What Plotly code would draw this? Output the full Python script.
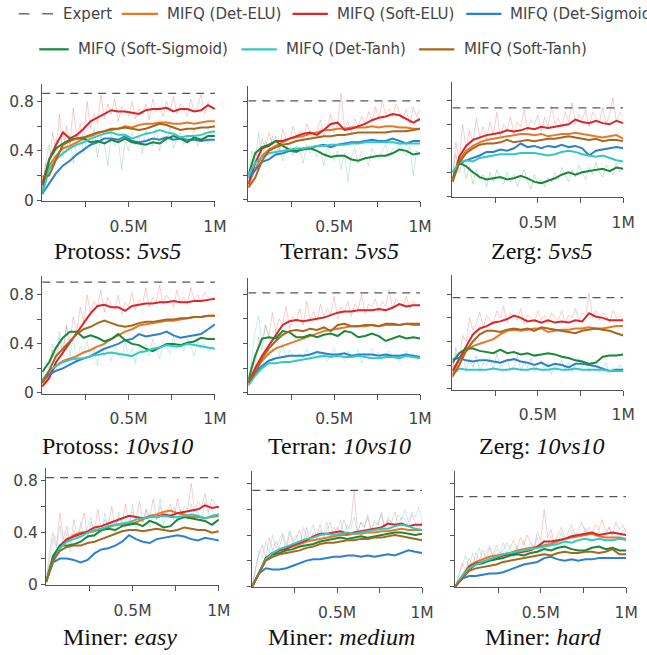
import plotly.graph_objects as go

W, H = 647, 655

# ---------------- data ----------------
steps = [0.00, 0.04, 0.08, 0.12, 0.16, 0.20, 0.24, 0.28, 0.32, 0.36, 0.40, 0.44, 0.48,
         0.52, 0.56, 0.60, 0.64, 0.68, 0.72, 0.76, 0.80, 0.84, 0.88, 0.92, 0.96, 1.00]
raw_steps = [0.00, 0.02, 0.04, 0.06, 0.08, 0.10, 0.12, 0.14, 0.16, 0.18, 0.20, 0.22, 0.24,
             0.26, 0.28, 0.30, 0.32, 0.34, 0.36, 0.38, 0.40, 0.42, 0.44, 0.46, 0.48, 0.50,
             0.52, 0.54, 0.56, 0.58, 0.60, 0.62, 0.64, 0.66, 0.68, 0.70, 0.72, 0.74, 0.76,
             0.78, 0.80, 0.82, 0.84, 0.86, 0.88, 0.90, 0.92, 0.94, 0.96, 0.98, 1.00]

series_names = ["MIFQ (Det-ELU)", "MIFQ (Soft-ELU)", "MIFQ (Det-Sigmoid)",
                "MIFQ (Soft-Sigmoid)", "MIFQ (Det-Tanh)", "MIFQ (Soft-Tanh)"]
series_colors = ["#e8772a", "#d9262a", "#2b80d0", "#17893a", "#33c9c0", "#a8661c"]

panel_titles = ["Protoss: <i>5vs5</i>", "Terran: <i>5vs5</i>", "Zerg: <i>5vs5</i>",
                "Protoss: <i>10vs10</i>", "Terran: <i>10vs10</i>", "Zerg: <i>10vs10</i>",
                "Miner: <i>easy</i>", "Miner: <i>medium</i>", "Miner: <i>hard</i>"]

expert_values = [0.867, 0.808, 0.737, 0.905, 0.81, 0.772, 0.823, 0.75, 0.70]

x_tick_vals = [0.25, 0.5, 0.75, 1.0]
x_tick_text = ["", "0.5M", "", "1M"]
y_tick_vals = [0, 0.2, 0.4, 0.6, 0.8]
y_tick_text = ["0", "", "0.4", "", "0.8"]

# Protoss 5vs5
protoss5_det_elu = [0.15, 0.28, 0.36, 0.42, 0.44, 0.47, 0.50, 0.52, 0.54, 0.56, 0.57, 0.58, 0.60, 0.59, 0.61, 0.62, 0.62, 0.63, 0.63, 0.62, 0.62, 0.63, 0.62, 0.63, 0.64, 0.64]
protoss5_soft_elu = [0.12, 0.33, 0.45, 0.55, 0.50, 0.53, 0.58, 0.64, 0.67, 0.70, 0.73, 0.72, 0.72, 0.71, 0.70, 0.73, 0.74, 0.74, 0.75, 0.72, 0.74, 0.74, 0.72, 0.73, 0.77, 0.74]
protoss5_det_sig = [0.05, 0.14, 0.22, 0.28, 0.32, 0.37, 0.41, 0.45, 0.47, 0.50, 0.50, 0.49, 0.52, 0.48, 0.47, 0.48, 0.50, 0.49, 0.51, 0.49, 0.50, 0.49, 0.49, 0.48, 0.49, 0.49]
protoss5_soft_sig = [0.05, 0.33, 0.42, 0.46, 0.49, 0.50, 0.50, 0.47, 0.48, 0.46, 0.49, 0.47, 0.50, 0.47, 0.46, 0.45, 0.47, 0.46, 0.50, 0.52, 0.50, 0.47, 0.51, 0.49, 0.52, 0.52]
protoss5_det_tanh = [0.05, 0.25, 0.33, 0.38, 0.42, 0.45, 0.47, 0.50, 0.52, 0.54, 0.55, 0.53, 0.53, 0.50, 0.52, 0.54, 0.55, 0.57, 0.55, 0.54, 0.51, 0.52, 0.52, 0.53, 0.55, 0.56]
protoss5_soft_tanh = [0.19, 0.20, 0.33, 0.45, 0.48, 0.50, 0.51, 0.53, 0.55, 0.56, 0.58, 0.58, 0.59, 0.58, 0.57, 0.58, 0.60, 0.62, 0.61, 0.59, 0.57, 0.58, 0.58, 0.59, 0.59, 0.60]

# Terran 5vs5
terran5_det_elu = [0.12, 0.25, 0.36, 0.41, 0.44, 0.47, 0.50, 0.51, 0.52, 0.54, 0.55, 0.57, 0.57, 0.58, 0.58, 0.59, 0.59, 0.59, 0.60, 0.59, 0.60, 0.60, 0.59, 0.59, 0.58, 0.58]
terran5_soft_elu = [0.13, 0.30, 0.42, 0.44, 0.48, 0.48, 0.50, 0.52, 0.54, 0.55, 0.53, 0.57, 0.62, 0.63, 0.57, 0.58, 0.60, 0.62, 0.65, 0.67, 0.68, 0.70, 0.69, 0.66, 0.63, 0.66]
terran5_det_sig = [0.18, 0.24, 0.31, 0.33, 0.37, 0.38, 0.40, 0.39, 0.42, 0.42, 0.44, 0.45, 0.43, 0.45, 0.46, 0.47, 0.47, 0.48, 0.49, 0.48, 0.48, 0.50, 0.48, 0.46, 0.48, 0.48]
terran5_soft_sig = [0.20, 0.38, 0.43, 0.45, 0.48, 0.44, 0.41, 0.40, 0.41, 0.42, 0.40, 0.37, 0.35, 0.36, 0.36, 0.33, 0.32, 0.34, 0.35, 0.36, 0.36, 0.38, 0.41, 0.40, 0.37, 0.38]
terran5_det_tanh = [0.20, 0.30, 0.35, 0.38, 0.39, 0.40, 0.41, 0.42, 0.42, 0.43, 0.44, 0.44, 0.45, 0.45, 0.45, 0.46, 0.46, 0.47, 0.47, 0.47, 0.47, 0.47, 0.46, 0.46, 0.46, 0.46]
terran5_soft_tanh = [0.10, 0.18, 0.32, 0.40, 0.43, 0.45, 0.46, 0.48, 0.49, 0.50, 0.51, 0.52, 0.52, 0.53, 0.53, 0.54, 0.55, 0.55, 0.55, 0.55, 0.55, 0.56, 0.56, 0.56, 0.57, 0.58]

# Zerg 5vs5
zerg5_det_elu = [0.12, 0.30, 0.38, 0.42, 0.45, 0.47, 0.48, 0.49, 0.50, 0.51, 0.52, 0.52, 0.51, 0.52, 0.50, 0.51, 0.52, 0.52, 0.53, 0.52, 0.51, 0.50, 0.49, 0.50, 0.51, 0.48]
zerg5_soft_elu = [0.13, 0.33, 0.42, 0.47, 0.49, 0.51, 0.52, 0.53, 0.55, 0.54, 0.55, 0.57, 0.56, 0.58, 0.57, 0.58, 0.59, 0.60, 0.64, 0.62, 0.61, 0.63, 0.61, 0.60, 0.63, 0.61]
zerg5_det_sig = [0.20, 0.27, 0.30, 0.32, 0.34, 0.37, 0.37, 0.39, 0.38, 0.40, 0.44, 0.41, 0.42, 0.40, 0.42, 0.41, 0.43, 0.41, 0.42, 0.40, 0.34, 0.38, 0.39, 0.40, 0.41, 0.40]
zerg5_soft_sig = [0.15, 0.28, 0.25, 0.20, 0.16, 0.14, 0.15, 0.16, 0.14, 0.15, 0.17, 0.15, 0.12, 0.11, 0.13, 0.15, 0.18, 0.20, 0.18, 0.20, 0.21, 0.22, 0.23, 0.21, 0.24, 0.23]
zerg5_det_tanh = [0.20, 0.28, 0.30, 0.29, 0.32, 0.33, 0.34, 0.35, 0.35, 0.35, 0.36, 0.36, 0.36, 0.35, 0.34, 0.35, 0.37, 0.38, 0.37, 0.35, 0.34, 0.33, 0.34, 0.32, 0.30, 0.29]
zerg5_soft_tanh = [0.12, 0.28, 0.36, 0.40, 0.43, 0.44, 0.44, 0.45, 0.47, 0.45, 0.46, 0.47, 0.46, 0.47, 0.48, 0.48, 0.49, 0.50, 0.49, 0.48, 0.47, 0.48, 0.46, 0.47, 0.47, 0.46]

# Protoss 10vs10
protoss10_det_elu = [0.08, 0.15, 0.22, 0.26, 0.28, 0.30, 0.33, 0.35, 0.38, 0.40, 0.44, 0.47, 0.50, 0.52, 0.55, 0.56, 0.57, 0.58, 0.59, 0.59, 0.60, 0.61, 0.62, 0.62, 0.63, 0.63]
protoss10_soft_elu = [0.05, 0.12, 0.25, 0.33, 0.42, 0.50, 0.57, 0.65, 0.71, 0.72, 0.70, 0.70, 0.67, 0.71, 0.72, 0.73, 0.73, 0.74, 0.74, 0.75, 0.74, 0.74, 0.75, 0.75, 0.76, 0.77]
protoss10_det_sig = [0.10, 0.15, 0.18, 0.20, 0.23, 0.26, 0.28, 0.30, 0.33, 0.36, 0.38, 0.40, 0.43, 0.44, 0.48, 0.46, 0.47, 0.48, 0.50, 0.47, 0.45, 0.46, 0.47, 0.48, 0.52, 0.56]
protoss10_soft_sig = [0.17, 0.25, 0.37, 0.45, 0.50, 0.50, 0.45, 0.47, 0.45, 0.42, 0.44, 0.48, 0.43, 0.40, 0.39, 0.36, 0.34, 0.37, 0.40, 0.40, 0.39, 0.41, 0.42, 0.45, 0.44, 0.44]
protoss10_det_tanh = [0.10, 0.18, 0.22, 0.25, 0.27, 0.28, 0.28, 0.30, 0.31, 0.32, 0.33, 0.32, 0.31, 0.30, 0.33, 0.34, 0.36, 0.37, 0.39, 0.38, 0.38, 0.40, 0.39, 0.38, 0.37, 0.36]
protoss10_soft_tanh = [0.08, 0.18, 0.30, 0.36, 0.42, 0.48, 0.52, 0.54, 0.57, 0.59, 0.57, 0.55, 0.54, 0.55, 0.57, 0.58, 0.58, 0.59, 0.60, 0.60, 0.61, 0.61, 0.62, 0.62, 0.63, 0.63]

# Terran 10vs10
terran10_det_elu = [0.08, 0.18, 0.26, 0.32, 0.36, 0.38, 0.40, 0.42, 0.44, 0.46, 0.48, 0.50, 0.51, 0.52, 0.53, 0.54, 0.54, 0.54, 0.55, 0.54, 0.55, 0.55, 0.55, 0.56, 0.55, 0.55]
terran10_soft_elu = [0.08, 0.20, 0.30, 0.38, 0.46, 0.55, 0.58, 0.59, 0.58, 0.59, 0.60, 0.61, 0.63, 0.65, 0.66, 0.66, 0.67, 0.67, 0.67, 0.68, 0.67, 0.69, 0.72, 0.70, 0.71, 0.71]
terran10_det_sig = [0.08, 0.16, 0.22, 0.26, 0.28, 0.29, 0.30, 0.30, 0.30, 0.31, 0.33, 0.32, 0.31, 0.31, 0.32, 0.30, 0.31, 0.31, 0.31, 0.30, 0.31, 0.30, 0.30, 0.31, 0.30, 0.29]
terran10_soft_sig = [0.10, 0.30, 0.44, 0.45, 0.44, 0.50, 0.49, 0.45, 0.45, 0.47, 0.45, 0.47, 0.48, 0.46, 0.50, 0.49, 0.45, 0.46, 0.48, 0.46, 0.42, 0.44, 0.46, 0.44, 0.45, 0.44]
terran10_det_tanh = [0.06, 0.14, 0.20, 0.24, 0.24, 0.25, 0.25, 0.26, 0.27, 0.28, 0.29, 0.30, 0.29, 0.30, 0.29, 0.29, 0.30, 0.29, 0.28, 0.28, 0.29, 0.29, 0.28, 0.30, 0.29, 0.28]
terran10_soft_tanh = [0.08, 0.16, 0.28, 0.36, 0.42, 0.47, 0.50, 0.51, 0.50, 0.52, 0.51, 0.53, 0.50, 0.55, 0.56, 0.54, 0.54, 0.55, 0.55, 0.54, 0.56, 0.56, 0.55, 0.56, 0.56, 0.56]

# Zerg 10vs10
zerg10_det_elu = [0.12, 0.25, 0.32, 0.36, 0.38, 0.40, 0.42, 0.46, 0.49, 0.50, 0.49, 0.50, 0.51, 0.51, 0.48, 0.49, 0.50, 0.50, 0.51, 0.51, 0.52, 0.51, 0.51, 0.52, 0.53, 0.53]
zerg10_soft_elu = [0.15, 0.25, 0.35, 0.46, 0.51, 0.53, 0.56, 0.57, 0.59, 0.62, 0.60, 0.57, 0.58, 0.56, 0.58, 0.56, 0.57, 0.56, 0.58, 0.57, 0.64, 0.61, 0.60, 0.58, 0.58, 0.58]
zerg10_det_sig = [0.25, 0.26, 0.24, 0.23, 0.24, 0.24, 0.23, 0.22, 0.24, 0.25, 0.23, 0.22, 0.20, 0.22, 0.19, 0.21, 0.20, 0.18, 0.21, 0.21, 0.20, 0.19, 0.17, 0.15, 0.16, 0.16]
zerg10_soft_sig = [0.22, 0.30, 0.34, 0.34, 0.32, 0.31, 0.30, 0.33, 0.30, 0.31, 0.29, 0.30, 0.28, 0.29, 0.30, 0.29, 0.27, 0.26, 0.24, 0.23, 0.21, 0.22, 0.27, 0.28, 0.28, 0.29]
zerg10_det_tanh = [0.12, 0.17, 0.16, 0.16, 0.16, 0.16, 0.17, 0.16, 0.16, 0.17, 0.16, 0.16, 0.17, 0.16, 0.16, 0.17, 0.16, 0.16, 0.17, 0.16, 0.16, 0.16, 0.16, 0.15, 0.15, 0.15]
zerg10_soft_tanh = [0.10, 0.20, 0.32, 0.40, 0.46, 0.49, 0.49, 0.48, 0.50, 0.51, 0.50, 0.51, 0.49, 0.52, 0.51, 0.50, 0.49, 0.48, 0.47, 0.49, 0.50, 0.51, 0.50, 0.49, 0.47, 0.45]

# Miner easy
easy_det_elu = [0.02, 0.20, 0.30, 0.34, 0.38, 0.40, 0.40, 0.41, 0.43, 0.44, 0.46, 0.46, 0.47, 0.48, 0.50, 0.53, 0.54, 0.56, 0.57, 0.55, 0.54, 0.52, 0.52, 0.51, 0.52, 0.53]
easy_soft_elu = [0.02, 0.20, 0.30, 0.35, 0.37, 0.39, 0.41, 0.44, 0.45, 0.47, 0.49, 0.51, 0.53, 0.52, 0.51, 0.52, 0.52, 0.54, 0.53, 0.55, 0.56, 0.57, 0.58, 0.61, 0.59, 0.60]
easy_det_sig = [0.02, 0.17, 0.20, 0.20, 0.19, 0.17, 0.19, 0.24, 0.27, 0.28, 0.30, 0.33, 0.38, 0.35, 0.33, 0.32, 0.35, 0.36, 0.37, 0.38, 0.37, 0.35, 0.34, 0.36, 0.35, 0.34]
easy_soft_sig = [0.02, 0.22, 0.30, 0.30, 0.31, 0.33, 0.37, 0.38, 0.42, 0.43, 0.42, 0.45, 0.46, 0.47, 0.45, 0.49, 0.47, 0.44, 0.45, 0.50, 0.52, 0.51, 0.50, 0.49, 0.46, 0.50]
easy_det_tanh = [0.02, 0.18, 0.28, 0.33, 0.35, 0.37, 0.40, 0.42, 0.43, 0.45, 0.46, 0.47, 0.48, 0.50, 0.51, 0.52, 0.52, 0.53, 0.52, 0.52, 0.53, 0.54, 0.53, 0.51, 0.53, 0.54]
easy_soft_tanh = [0.02, 0.18, 0.26, 0.29, 0.30, 0.30, 0.32, 0.33, 0.35, 0.37, 0.39, 0.41, 0.42, 0.42, 0.41, 0.42, 0.43, 0.42, 0.41, 0.42, 0.44, 0.43, 0.42, 0.42, 0.40, 0.41]

# Miner medium
medium_det_elu = [0.00, 0.10, 0.21, 0.25, 0.28, 0.30, 0.31, 0.33, 0.35, 0.36, 0.37, 0.38, 0.39, 0.40, 0.40, 0.41, 0.41, 0.42, 0.42, 0.43, 0.43, 0.44, 0.45, 0.44, 0.44, 0.44]
medium_soft_elu = [0.00, 0.10, 0.22, 0.26, 0.28, 0.29, 0.32, 0.34, 0.36, 0.39, 0.41, 0.41, 0.42, 0.43, 0.41, 0.42, 0.43, 0.44, 0.45, 0.46, 0.49, 0.48, 0.49, 0.47, 0.48, 0.48]
medium_det_sig = [0.00, 0.10, 0.14, 0.13, 0.13, 0.14, 0.16, 0.18, 0.20, 0.21, 0.21, 0.22, 0.23, 0.23, 0.24, 0.24, 0.23, 0.24, 0.23, 0.24, 0.25, 0.24, 0.26, 0.28, 0.27, 0.26]
medium_soft_sig = [0.00, 0.10, 0.22, 0.25, 0.26, 0.28, 0.29, 0.31, 0.32, 0.33, 0.35, 0.36, 0.37, 0.38, 0.37, 0.38, 0.39, 0.38, 0.39, 0.40, 0.41, 0.42, 0.42, 0.41, 0.40, 0.41]
medium_det_tanh = [0.00, 0.10, 0.21, 0.26, 0.29, 0.31, 0.33, 0.35, 0.37, 0.38, 0.40, 0.41, 0.40, 0.41, 0.42, 0.41, 0.42, 0.43, 0.44, 0.45, 0.45, 0.47, 0.48, 0.47, 0.45, 0.44]
medium_soft_tanh = [0.00, 0.10, 0.20, 0.23, 0.25, 0.26, 0.27, 0.28, 0.30, 0.31, 0.33, 0.34, 0.34, 0.35, 0.36, 0.36, 0.37, 0.37, 0.38, 0.38, 0.39, 0.40, 0.39, 0.38, 0.37, 0.36]

# Miner hard
hard_det_elu = [0.00, 0.08, 0.16, 0.19, 0.21, 0.23, 0.24, 0.25, 0.26, 0.28, 0.29, 0.30, 0.31, 0.32, 0.33, 0.35, 0.37, 0.38, 0.39, 0.40, 0.41, 0.39, 0.38, 0.38, 0.38, 0.37]
hard_soft_elu = [0.00, 0.08, 0.15, 0.18, 0.19, 0.21, 0.22, 0.24, 0.25, 0.26, 0.27, 0.28, 0.31, 0.35, 0.35, 0.36, 0.37, 0.39, 0.40, 0.41, 0.42, 0.40, 0.41, 0.42, 0.41, 0.40]
hard_det_sig = [0.00, 0.06, 0.08, 0.08, 0.09, 0.10, 0.10, 0.11, 0.13, 0.15, 0.17, 0.18, 0.19, 0.22, 0.23, 0.21, 0.20, 0.21, 0.20, 0.21, 0.21, 0.22, 0.22, 0.22, 0.22, 0.22]
hard_soft_sig = [0.00, 0.07, 0.13, 0.17, 0.18, 0.20, 0.21, 0.22, 0.24, 0.25, 0.24, 0.26, 0.27, 0.29, 0.28, 0.30, 0.31, 0.29, 0.28, 0.28, 0.30, 0.31, 0.29, 0.30, 0.28, 0.28]
hard_det_tanh = [0.00, 0.08, 0.14, 0.17, 0.19, 0.21, 0.23, 0.25, 0.26, 0.27, 0.28, 0.29, 0.30, 0.31, 0.32, 0.33, 0.35, 0.34, 0.36, 0.37, 0.36, 0.37, 0.36, 0.36, 0.37, 0.36]
hard_soft_tanh = [0.00, 0.06, 0.12, 0.14, 0.15, 0.16, 0.17, 0.19, 0.20, 0.21, 0.22, 0.23, 0.24, 0.25, 0.24, 0.26, 0.27, 0.26, 0.26, 0.27, 0.27, 0.26, 0.27, 0.29, 0.25, 0.25]

# faint raw (unsmoothed) curves: Soft-ELU (pink haze) and a green/teal one per panel
protoss5_raw_red = [0.10,0.30,0.25,0.55,0.40,0.70,0.35,0.60,0.45,0.75,0.50,0.62,0.48,0.80,0.58,0.70,0.62,0.85,0.66,0.78,0.70,0.82,0.64,0.76,0.72,0.68,0.80,0.66,0.74,0.70,0.78,0.65,0.82,0.72,0.76,0.68,0.80,0.72,0.84,0.70,0.78,0.74,0.68,0.82,0.72,0.76,0.86,0.70,0.80,0.74,0.76]
protoss5_raw_teal = [0.05,0.30,0.45,0.28,0.50,0.35,0.55,0.40,0.52,0.30,0.48,0.56,0.38,0.50,0.42,0.58,0.35,0.52,0.46,0.28,0.55,0.44,0.50,0.25,0.48,0.40,0.55,0.45,0.52,0.38,0.56,0.48,0.44,0.58,0.40,0.52,0.47,0.60,0.42,0.50,0.55,0.45,0.52,0.48,0.58,0.44,0.50,0.55,0.46,0.52,0.56]
terran5_raw_red = [0.10,0.25,0.40,0.32,0.50,0.42,0.55,0.45,0.52,0.40,0.58,0.50,0.47,0.60,0.52,0.56,0.48,0.62,0.55,0.50,0.58,0.65,0.52,0.60,0.70,0.55,0.62,0.87,0.58,0.64,0.55,0.66,0.60,0.68,0.62,0.72,0.64,0.76,0.66,0.80,0.70,0.74,0.68,0.78,0.72,0.66,0.74,0.62,0.76,0.68,0.74]
terran5_raw_teal = [0.15,0.40,0.30,0.55,0.35,0.48,0.40,0.52,0.38,0.45,0.32,0.42,0.46,0.36,0.44,0.40,0.30,0.45,0.38,0.42,0.35,0.40,0.28,0.44,0.36,0.32,0.40,0.25,0.38,0.15,0.35,0.42,0.30,0.40,0.36,0.28,0.42,0.38,0.33,0.40,0.45,0.35,0.42,0.38,0.46,0.40,0.36,0.44,0.20,0.40,0.38]
zerg5_raw_red = [0.15,0.45,0.30,0.60,0.40,0.55,0.45,0.65,0.50,0.58,0.48,0.62,0.52,0.70,0.50,0.60,0.55,0.66,0.52,0.62,0.58,0.72,0.55,0.64,0.60,0.68,0.54,0.66,0.58,0.75,0.60,0.65,0.58,0.70,0.62,0.78,0.60,0.68,0.64,0.72,0.58,0.70,0.66,0.62,0.74,0.60,0.68,0.82,0.62,0.70,0.66]
zerg5_raw_teal = [0.20,0.35,0.20,0.30,0.15,0.25,0.10,0.22,0.14,0.18,0.08,0.20,0.12,0.22,0.15,0.10,0.20,0.12,0.18,0.08,0.16,0.22,0.12,0.06,0.18,0.10,0.14,0.08,0.16,0.12,0.20,0.14,0.24,0.18,0.12,0.22,0.16,0.26,0.20,0.14,0.24,0.18,0.28,0.20,0.16,0.26,0.22,0.18,0.28,0.20,0.24]
protoss10_raw_red = [0.05,0.15,0.10,0.35,0.20,0.45,0.30,0.55,0.40,0.62,0.50,0.70,0.58,0.80,0.65,0.75,0.70,0.84,0.66,0.78,0.72,0.68,0.80,0.64,0.74,0.70,0.82,0.68,0.76,0.72,0.86,0.70,0.78,0.74,0.88,0.72,0.80,0.76,0.70,0.84,0.74,0.78,0.72,0.86,0.76,0.80,0.74,0.82,0.78,0.76,0.80]
protoss10_raw_teal = [0.10,0.25,0.20,0.40,0.28,0.50,0.35,0.55,0.30,0.45,0.25,0.38,0.32,0.42,0.28,0.36,0.22,0.40,0.30,0.35,0.26,0.38,0.32,0.28,0.42,0.30,0.36,0.24,0.38,0.34,0.40,0.30,0.44,0.36,0.28,0.42,0.38,0.32,0.46,0.36,0.40,0.34,0.44,0.38,0.30,0.42,0.36,0.40,0.34,0.38,0.36]
terran10_raw_red = [0.08,0.25,0.20,0.45,0.35,0.55,0.45,0.65,0.50,0.60,0.55,0.70,0.52,0.62,0.58,0.68,0.55,0.74,0.60,0.66,0.58,0.72,0.62,0.68,0.64,0.78,0.60,0.70,0.66,0.74,0.62,0.72,0.68,0.80,0.64,0.72,0.70,0.76,0.66,0.74,0.70,0.84,0.68,0.76,0.72,0.70,0.78,0.68,0.74,0.72,0.70]
terran10_raw_teal = [0.06,0.30,0.50,0.62,0.40,0.55,0.45,0.35,0.50,0.30,0.40,0.28,0.35,0.30,0.25,0.32,0.28,0.36,0.26,0.30,0.34,0.28,0.32,0.25,0.30,0.36,0.28,0.32,0.26,0.34,0.30,0.28,0.35,0.24,0.32,0.30,0.36,0.28,0.33,0.26,0.30,0.34,0.28,0.32,0.25,0.30,0.34,0.28,0.32,0.27,0.30]
zerg10_raw_red = [0.15,0.30,0.25,0.45,0.40,0.60,0.50,0.55,0.65,0.52,0.62,0.58,0.55,0.66,0.60,0.70,0.56,0.64,0.60,0.58,0.68,0.55,0.62,0.60,0.56,0.66,0.58,0.62,0.55,0.64,0.60,0.58,0.66,0.56,0.62,0.60,0.68,0.58,0.64,0.62,0.81,0.60,0.66,0.58,0.64,0.62,0.56,0.66,0.60,0.62,0.58]
zerg10_raw_teal = [0.15,0.35,0.20,0.30,0.15,0.25,0.18,0.28,0.14,0.22,0.20,0.26,0.16,0.30,0.18,0.22,0.25,0.15,0.20,0.28,0.16,0.22,0.18,0.26,0.14,0.20,0.24,0.16,0.22,0.12,0.20,0.18,0.24,0.16,0.22,0.14,0.20,0.26,0.18,0.22,0.16,0.20,0.24,0.14,0.18,0.22,0.12,0.18,0.16,0.20,0.14]
easy_raw_red = [0.02,0.25,0.40,0.30,0.55,0.35,0.45,0.30,0.50,0.38,0.44,0.55,0.36,0.48,0.42,0.58,0.40,0.50,0.46,0.60,0.44,0.52,0.48,0.62,0.46,0.56,0.50,0.64,0.48,0.58,0.52,0.66,0.50,0.60,0.54,0.56,0.62,0.50,0.66,0.54,0.60,0.58,0.78,0.56,0.64,0.60,0.70,0.56,0.66,0.62,0.58]
easy_raw_teal = [0.02,0.20,0.35,0.28,0.45,0.30,0.40,0.25,0.42,0.35,0.48,0.38,0.44,0.52,0.36,0.46,0.40,0.55,0.42,0.48,0.38,0.56,0.44,0.50,0.46,0.62,0.42,0.52,0.48,0.58,0.44,0.54,0.50,0.66,0.46,0.56,0.52,0.60,0.48,0.58,0.54,0.50,0.62,0.52,0.56,0.48,0.64,0.54,0.58,0.50,0.56]
medium_raw_red = [0.00,0.15,0.25,0.32,0.22,0.38,0.28,0.35,0.30,0.40,0.26,0.42,0.34,0.38,0.44,0.32,0.46,0.36,0.42,0.40,0.48,0.38,0.44,0.50,0.40,0.46,0.42,0.52,0.44,0.48,0.75,0.42,0.50,0.46,0.54,0.44,0.50,0.48,0.56,0.46,0.52,0.50,0.58,0.48,0.54,0.52,0.46,0.56,0.50,0.42,0.52]
medium_raw_teal = [0.00,0.12,0.28,0.22,0.35,0.26,0.40,0.30,0.36,0.42,0.32,0.44,0.36,0.40,0.30,0.46,0.38,0.42,0.48,0.36,0.44,0.40,0.50,0.38,0.46,0.42,0.52,0.40,0.48,0.44,0.54,0.42,0.50,0.46,0.56,0.44,0.52,0.48,0.58,0.46,0.54,0.50,0.48,0.56,0.52,0.60,0.50,0.58,0.54,0.62,0.52]
hard_raw_red = [0.00,0.10,0.18,0.12,0.22,0.16,0.26,0.20,0.28,0.22,0.30,0.24,0.32,0.26,0.28,0.34,0.30,0.36,0.28,0.38,0.32,0.40,0.34,0.30,0.42,0.36,0.60,0.38,0.44,0.34,0.40,0.46,0.38,0.42,0.48,0.40,0.44,0.50,0.42,0.46,0.40,0.48,0.44,0.52,0.42,0.46,0.40,0.50,0.44,0.48,0.42]
hard_raw_teal = [0.00,0.08,0.16,0.24,0.14,0.26,0.18,0.30,0.20,0.26,0.32,0.22,0.28,0.24,0.34,0.26,0.30,0.22,0.32,0.28,0.36,0.26,0.34,0.30,0.38,0.28,0.36,0.32,0.40,0.30,0.34,0.42,0.32,0.38,0.44,0.34,0.40,0.36,0.46,0.34,0.42,0.38,0.44,0.36,0.40,0.46,0.38,0.42,0.36,0.44,0.40]

panel_series = [
    [protoss5_det_elu, protoss5_soft_elu, protoss5_det_sig, protoss5_soft_sig, protoss5_det_tanh, protoss5_soft_tanh],
    [terran5_det_elu, terran5_soft_elu, terran5_det_sig, terran5_soft_sig, terran5_det_tanh, terran5_soft_tanh],
    [zerg5_det_elu, zerg5_soft_elu, zerg5_det_sig, zerg5_soft_sig, zerg5_det_tanh, zerg5_soft_tanh],
    [protoss10_det_elu, protoss10_soft_elu, protoss10_det_sig, protoss10_soft_sig, protoss10_det_tanh, protoss10_soft_tanh],
    [terran10_det_elu, terran10_soft_elu, terran10_det_sig, terran10_soft_sig, terran10_det_tanh, terran10_soft_tanh],
    [zerg10_det_elu, zerg10_soft_elu, zerg10_det_sig, zerg10_soft_sig, zerg10_det_tanh, zerg10_soft_tanh],
    [easy_det_elu, easy_soft_elu, easy_det_sig, easy_soft_sig, easy_det_tanh, easy_soft_tanh],
    [medium_det_elu, medium_soft_elu, medium_det_sig, medium_soft_sig, medium_det_tanh, medium_soft_tanh],
    [hard_det_elu, hard_soft_elu, hard_det_sig, hard_soft_sig, hard_det_tanh, hard_soft_tanh],
]
panel_raw = [
    (protoss5_raw_red, protoss5_raw_teal), (terran5_raw_red, terran5_raw_teal), (zerg5_raw_red, zerg5_raw_teal),
    (protoss10_raw_red, protoss10_raw_teal), (terran10_raw_red, terran10_raw_teal), (zerg10_raw_red, zerg10_raw_teal),
    (easy_raw_red, easy_raw_teal), (medium_raw_red, medium_raw_teal), (hard_raw_red, hard_raw_teal),
]
raw_teal_colors = ["rgba(40,160,120,0.24)", "rgba(40,160,120,0.24)", "rgba(30,140,70,0.24)",
                   "rgba(51,201,192,0.28)", "rgba(51,201,192,0.28)", "rgba(43,128,208,0.24)",
                   "rgba(51,201,192,0.28)", "rgba(51,201,192,0.28)", "rgba(51,201,192,0.28)"]

# ---------------- layout geometry (pixels) ----------------
# left, right, top, bottom, y-min, y-max
boxes = [
    (43, 219, 85, 204, -0.008, 0.944),
    (253, 428, 87, 204, -0.011, 0.931),
    (461, 635, 83, 200, -0.008, 0.954),
    (43, 219, 280, 399, -0.006, 0.954),
    (253, 428, 282, 399, -0.006, 0.930),
    (461, 635, 279, 395, -0.008, 0.962),
    (47, 223, 475, 593.5, -0.006, 0.894),
    (257, 430, 478, 595.5, -0.009, 0.898),
    (464, 638, 478, 595.5, -0.008, 0.896),
]
title_pos = [(120, 255), (346, 255), (552, 255),
             (120, 452), (346, 452), (552, 452),
             (122, 646), (348, 646), (554, 646)]

AX = "#555555"
TXT = "#444444"

fig = go.Figure()
layout = dict(width=W, height=H, margin=dict(l=0, r=0, t=0, b=0),
              paper_bgcolor="white", plot_bgcolor="white", showlegend=False,
              font=dict(family="DejaVu Sans", color=TXT))
annotations = []
shapes = []

for i, (l, r, t, b, y0, y1) in enumerate(boxes):
    n = i + 1
    xa = "x" if n == 1 else f"x{n}"
    ya = "y" if n == 1 else f"y{n}"
    col = i % 3
    layout["xaxis" if n == 1 else f"xaxis{n}"] = dict(
        domain=[l / W, r / W], range=[0, 1], anchor=ya,
        showgrid=False, zeroline=False, showline=True, linecolor=AX, linewidth=1.3,
        ticks="outside", ticklen=5, tickcolor=AX, tickwidth=1.3, ticklabelstandoff=6,
        tickvals=x_tick_vals, ticktext=x_tick_text,
        tickfont=dict(family="DejaVu Sans", size=15.5, color=TXT))
    layout["yaxis" if n == 1 else f"yaxis{n}"] = dict(
        domain=[1 - b / H, 1 - t / H], range=[y0, y1], anchor=xa,
        showgrid=False, zeroline=False, showline=True, linecolor=AX, linewidth=1.3,
        ticks="outside", ticklen=4, tickcolor=AX, tickwidth=1.3,
        tickvals=y_tick_vals, ticktext=y_tick_text if col == 0 else [""] * 5,
        tickfont=dict(family="DejaVu Sans", size=15.5, color=TXT))

    raw_red, raw_teal = panel_raw[i]
    fig.add_trace(go.Scatter(x=raw_steps[:len(raw_teal)], y=raw_teal, mode="lines", xaxis=xa, yaxis=ya,
                             line=dict(color=raw_teal_colors[i], width=1), hoverinfo="skip",
                             showlegend=False))
    fig.add_trace(go.Scatter(x=raw_steps[:len(raw_red)], y=raw_red, mode="lines", xaxis=xa, yaxis=ya,
                             line=dict(color="rgba(217,38,42,0.22)", width=1), hoverinfo="skip",
                             showlegend=False))

    for s, (vals, color) in enumerate(zip(panel_series[i], series_colors)):
        fig.add_trace(go.Scatter(x=steps, y=vals, mode="lines", xaxis=xa, yaxis=ya,
                                 line=dict(color=color, width=2), name=series_names[s],
                                 showlegend=False))
    fig.add_trace(go.Scatter(x=[0, 1], y=[expert_values[i]] * 2, mode="lines",
                             xaxis=xa, yaxis=ya, name="Expert", showlegend=False,
                             line=dict(color="#555555", width=1.3, dash="8px,6px")))

    tx, ty = title_pos[i]
    annotations.append(dict(text=panel_titles[i], x=tx / W, y=1 - ty / H, xref="paper",
                            yref="paper", showarrow=False, xanchor="center", yanchor="middle",
                            font=dict(family="Liberation Serif", size=24, color="#111111")))

# ---------------- legend (drawn manually, overflowing right edge like the original) ----------------
legend_items = [
    ("Expert", "#555555", "dash", 19, 54, 62, 14),
    ("MIFQ (Det-ELU)", series_colors[0], "solid", 124, 161, 168, 14),
    ("MIFQ (Soft-ELU)", series_colors[1], "solid", 298, 334, 341, 14),
    ("MIFQ (Det-Sigmoid)", series_colors[2], "solid", 475, 511, 518, 14),
    ("MIFQ (Soft-Sigmoid)", series_colors[3], "solid", 40, 70, 77, 50),
    ("MIFQ (Det-Tanh)", series_colors[4], "solid", 246, 282, 289, 50),
    ("MIFQ (Soft-Tanh)", series_colors[5], "solid", 427, 463, 471, 50),
]
for name, color, dash, x0, x1, xt, yc in legend_items:
    if dash == "dash":
        for a, bb in [(x0, x0 + 11), (x1 - 11, x1)]:
            shapes.append(dict(type="line", xref="paper", yref="paper", x0=a / W, x1=bb / W,
                               y0=1 - yc / H, y1=1 - yc / H, line=dict(color=color, width=1.3)))
    else:
        shapes.append(dict(type="line", xref="paper", yref="paper", x0=x0 / W, x1=x1 / W,
                           y0=1 - yc / H, y1=1 - yc / H, line=dict(color=color, width=2.2)))
    annotations.append(dict(text=name, x=xt / W, y=1 - yc / H, xref="paper", yref="paper",
                            showarrow=False, xanchor="left", yanchor="middle",
                            font=dict(family="DejaVu Sans", size=15, color=TXT)))

layout["annotations"] = annotations
layout["shapes"] = shapes
fig.update_layout(**layout)
fig.write_html("out.html")
